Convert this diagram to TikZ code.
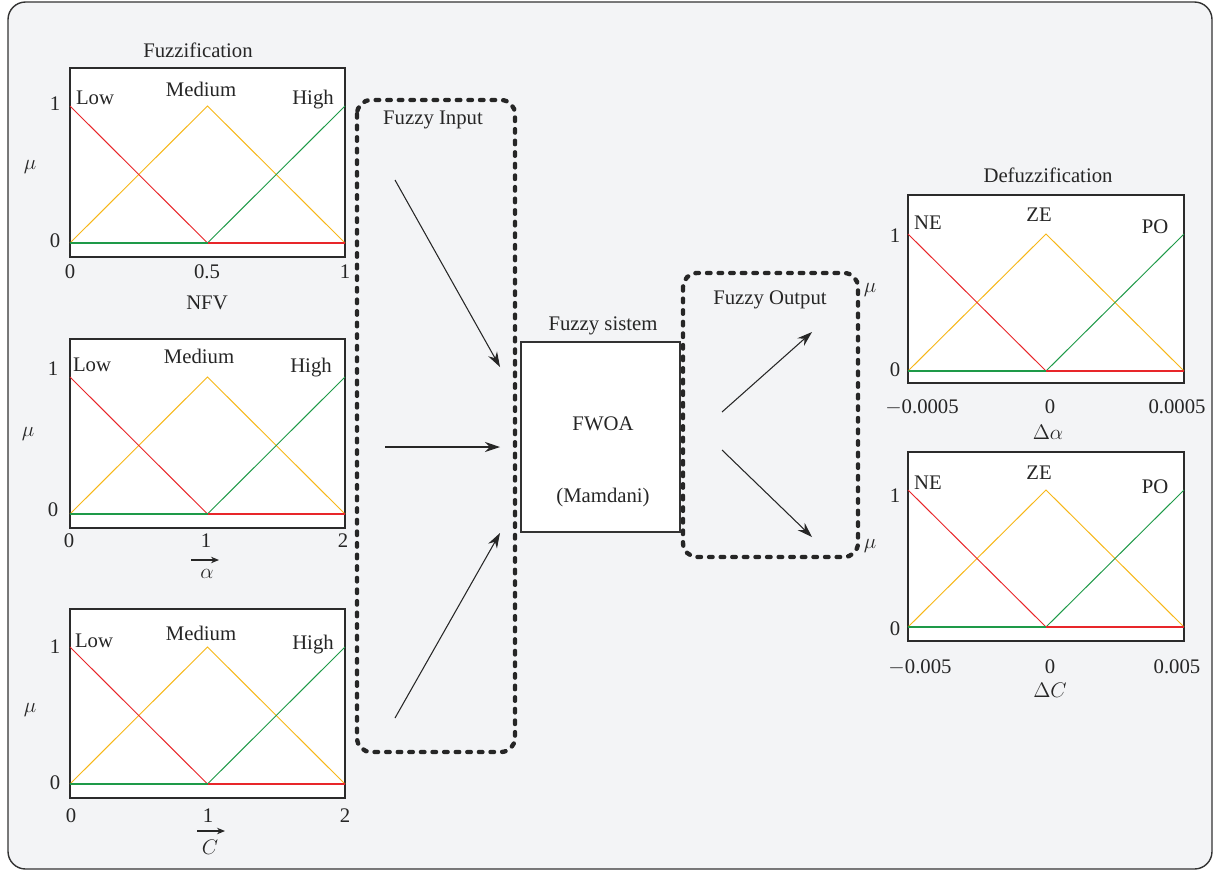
\documentclass[tikz,border=0pt]{standalone}
\usepackage{amsmath,amssymb}
\usepackage{fontspec}
\setmainfont{Liberation Serif}
\usetikzlibrary{arrows.meta,positioning}
\definecolor{panelgray}{HTML}{F3F4F6}
\definecolor{mfred}{HTML}{E8262A}
\definecolor{mfyellow}{HTML}{F7B718}
\definecolor{mfgreen}{HTML}{1E9A48}
\definecolor{framegray}{HTML}{2B2B2B}

\begin{document}
\begin{tikzpicture}[x=0.02cm,y=-0.02cm]
\tikzset{
  lbl/.style={font=\fontsize{11.8}{14}\selectfont,inner sep=1pt,text=black!85},
  plotframe/.style={draw=framegray,line width=0.8pt,fill=white},
  mfline/.style={line width=0.55pt},
  mfbase/.style={line width=1.2pt},
  fuzzybox/.style={draw=black!85,line width=2.5pt,dash pattern=on 2pt off 4.6pt,line cap=round,rounded corners=8pt},
  flow/.style={-{Stealth[length=3mm,width=2mm]},line width=0.6pt,black!85},
  labelarrow/.style={-{Stealth[length=1.6mm,width=1.3mm]},line width=0.6pt,black!85},
  sysbox/.style={draw=black!80,fill=white,line width=0.6pt,minimum width=3.18cm,minimum height=3.8cm}
}
\useasboundingbox (0,0) rectangle (1219,872);
\draw[draw=black!80,fill=panelgray,line width=0.8pt,rounded corners=10pt] (8,2) rectangle (1212,869);

% input NFV
\node[lbl] (t_fuzz) at (198,50) {Fuzzification};
\draw[plotframe] (70,68) rectangle (345,257);
\draw[mfline,mfyellow] (70,243) -- (207.5,106) -- (345,243);
\draw[mfline,mfred] (70,106) -- (207.5,243);
\draw[mfline,mfgreen] (207.5,243) -- (345,106);
\draw[mfbase,mfgreen] (70,243) -- (207.5,243);
\draw[mfbase,mfred] (207.5,243) -- (345,243);
\node[lbl] (n_low1) at (95,98) {Low};
\node[lbl] (n_med1) at (201,89) {Medium};
\node[lbl] (n_high1) at (313,100) {High};
\node[lbl] (y1_1) at (55,104) {1};
\node[lbl] (y0_1) at (55,241) {0};
\node[lbl] (mu_1) at (30,167) {$\mu$};
\node[lbl] (x0_1) at (70,272) {0};
\node[lbl] (x1_1) at (207,272) {0.5};
\node[lbl] (x2_1) at (345,272) {1};
\node[lbl] (lbl_nfv) at (207,303) {NFV};

% input alpha
\draw[plotframe] (70,339) rectangle (345,528);
\draw[mfline,mfyellow] (70,514) -- (207.5,377) -- (345,514);
\draw[mfline,mfred] (70,377) -- (207.5,514);
\draw[mfline,mfgreen] (207.5,514) -- (345,377);
\draw[mfbase,mfgreen] (70,514) -- (207.5,514);
\draw[mfbase,mfred] (207.5,514) -- (345,514);
\node[lbl] (n_low2) at (92,365) {Low};
\node[lbl] (n_med2) at (199,356) {Medium};
\node[lbl] (n_high2) at (311,368) {High};
\node[lbl] (y1_2) at (53,369) {1};
\node[lbl] (y0_2) at (53,510) {0};
\node[lbl] (mu_2) at (28,434) {$\mu$};
\node[lbl] (x0_2) at (69,541) {0};
\node[lbl] (x1_2) at (206,541) {1};
\node[lbl] (x2_2) at (343,541) {2};
\node[lbl] (lbl_alpha) at (207,574) {$\alpha$};
\draw[labelarrow] (191,560) -- (219,560);

% input C
\draw[plotframe] (70,609) rectangle (345,798);
\draw[mfline,mfyellow] (70,784) -- (207.5,647) -- (345,784);
\draw[mfline,mfred] (70,647) -- (207.5,784);
\draw[mfline,mfgreen] (207.5,784) -- (345,647);
\draw[mfbase,mfgreen] (70,784) -- (207.5,784);
\draw[mfbase,mfred] (207.5,784) -- (345,784);
\node[lbl] (n_low3) at (94,641) {Low};
\node[lbl] (n_med3) at (201,633) {Medium};
\node[lbl] (n_high3) at (313,645) {High};
\node[lbl] (y1_3) at (55,647) {1};
\node[lbl] (y0_3) at (55,783) {0};
\node[lbl] (mu_3) at (30,710) {$\mu$};
\node[lbl] (x0_3) at (71,816) {0};
\node[lbl] (x1_3) at (208,816) {1};
\node[lbl] (x2_3) at (345,816) {2};
\node[lbl] (lbl_c) at (210,847) {$C$};
\draw[labelarrow] (197,831) -- (225,831);

% fuzzy input
\draw[fuzzybox] (357,100) rectangle (515,752);
\node[lbl] (t_in) at (433,120) {Fuzzy Input};
\coordinate (in_a) at (395,180);
\coordinate (in_b) at (385,447);
\coordinate (in_c) at (395,718);
\coordinate (fw_a) at (500,367);
\coordinate (fw_b) at (500,447);
\coordinate (fw_c) at (500,533);

% fuzzy system
\node[sysbox] (n_fwoa) at (600.5,437) {};
\node[lbl] (t_sys) at (603,326) {Fuzzy sistem};
\node[lbl] (t_fwoa) at (603,424) {FWOA};
\node[lbl] (t_mam) at (603,498) {(Mamdani)};
\draw[flow] (in_a) -- (fw_a);
\draw[flow] (in_b) -- (fw_b);
\draw[flow] (in_c) -- (fw_c);

% fuzzy output
\draw[fuzzybox] (683,273) rectangle (858,557);
\node[lbl] (t_out) at (770,300) {Fuzzy Output};
\coordinate (out_a) at (722,412);
\coordinate (out_b) at (722,450);
\coordinate (de_a) at (812,332);
\coordinate (de_b) at (812,537);
\draw[flow] (out_a) -- (de_a);
\draw[flow] (out_b) -- (de_b);
\node[lbl] (mu_oa) at (870,290) {$\mu$};
\node[lbl] (mu_ob) at (870,546) {$\mu$};

% output delta alpha
\node[lbl] (t_defuzz) at (1048,175) {Defuzzification};
\draw[plotframe] (908,195) rectangle (1184,383);
\draw[mfline,mfyellow] (908,371) -- (1046,234) -- (1184,371);
\draw[mfline,mfred] (908,234) -- (1046,371);
\draw[mfline,mfgreen] (1046,371) -- (1184,234);
\draw[mfbase,mfgreen] (908,371) -- (1046,371);
\draw[mfbase,mfred] (1046,371) -- (1184,371);
\node[lbl] (n_ne1) at (928,223) {NE};
\node[lbl] (n_ze1) at (1039,215) {ZE};
\node[lbl] (n_po1) at (1155,227) {PO};
\node[lbl] (y1_4) at (895,236) {1};
\node[lbl] (y0_4) at (895,370) {0};
\node[lbl] (x0_4) at (922,407) {$-$0.0005};
\node[lbl] (x1_4) at (1050,407) {0};
\node[lbl] (x2_4) at (1177,407) {0.0005};
\node[lbl] (lbl_da) at (1048,432) {$\Delta\alpha$};

% output delta C
\draw[plotframe] (908,452) rectangle (1184,641);
\draw[mfline,mfyellow] (908,627) -- (1046,490) -- (1184,627);
\draw[mfline,mfred] (908,490) -- (1046,627);
\draw[mfline,mfgreen] (1046,627) -- (1184,490);
\draw[mfbase,mfgreen] (908,627) -- (1046,627);
\draw[mfbase,mfred] (1046,627) -- (1184,627);
\node[lbl] (n_ne2) at (928,483) {NE};
\node[lbl] (n_ze2) at (1039,473) {ZE};
\node[lbl] (n_po2) at (1155,487) {PO};
\node[lbl] (y1_5) at (895,496) {1};
\node[lbl] (y0_5) at (895,629) {0};
\node[lbl] (x0_5) at (920,667) {$-$0.005};
\node[lbl] (x1_5) at (1050,667) {0};
\node[lbl] (x2_5) at (1177,667) {0.005};
\node[lbl] (lbl_dc) at (1050,690) {$\Delta C$};
\end{tikzpicture}
\end{document}
